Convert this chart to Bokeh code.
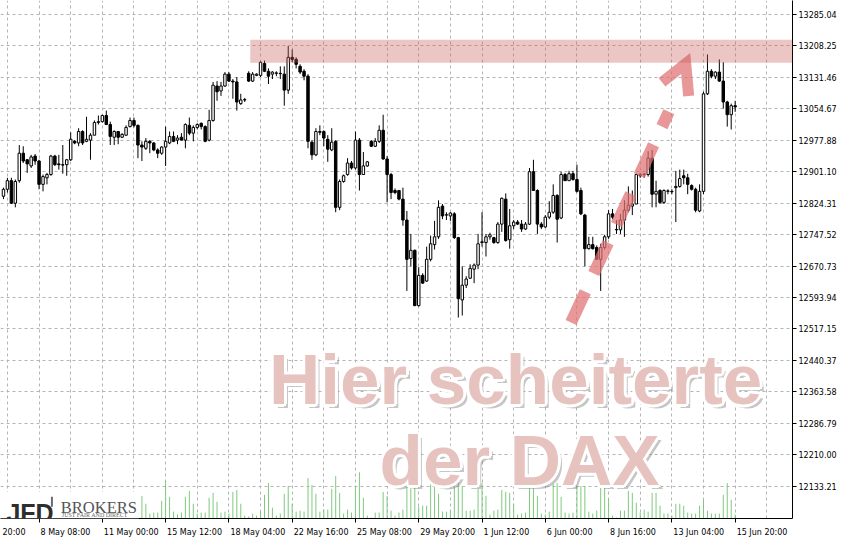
from bokeh.plotting import figure
from bokeh.models import Range1d, FixedTicker, BoxAnnotation, Label
from bokeh.core.properties import value
from bokeh.embed import file_html
from bokeh.resources import INLINE

# ---------------- data (DAX, H4 candles) ----------------
opens = [12841,12858,12879,12824,12879,12946,12930,12915,12939,12927,
         12870,12886,12894,12939,12920,12918,12918,12930,12975,12971,
         12999,12975,12978,12990,13021,13023,13038,13016,12985,12999,
         12985,12990,13011,13026,13014,12966,12958,12975,12971,12954,
         12946,12961,12971,12987,12978,12985,12978,13014,12995,13009,
         13019,13011,12978,13026,13110,13098,13110,13139,13122,13120,
         13067,13076,13141,13122,13136,13136,13165,13146,13139,13141,
         13141,13139,13100,13180,13175,13158,13146,13134,12973,12942,
         12999,12999,12980,12954,12975,12814,12877,12894,12922,12910,
         12978,12894,12915,12975,12963,12975,13002,12932,12894,12855,
         12855,12834,12783,12689,12709,12574,12648,12634,12687,12723,
         12742,12817,12795,12793,12798,12740,12588,12624,12641,12663,
         12673,12728,12728,12742,12740,12728,12773,12834,12735,12769,
         12778,12773,12761,12773,12901,12855,12773,12766,12790,12802,
         12843,12788,12894,12879,12896,12882,12855,12795,12713,12723,
         12716,12687,12716,12742,12798,12759,12759,12783,12807,12817,
         12822,12891,12894,12894,12934,12846,12855,12826,12853,12853,
         12862,12865,12891,12886,12867,12858,12805,12853,13091,13146,
         13134,13144,13122,13071,13040,13062]
highs = [12862,12886,12886,12882,12966,12963,12932,12942,12944,12930,
         12894,12898,12942,12942,12942,12966,12932,12997,12978,13007,
         13002,13035,12995,13026,13038,13040,13050,13023,13002,13000,
         12995,13014,13033,13033,13016,12975,12983,12978,12973,12958,
         12963,13011,12999,12999,12990,12995,13019,13033,13014,13019,
         13021,13014,13052,13120,13122,13120,13144,13144,13127,13132,
         13091,13081,13146,13144,13141,13170,13172,13153,13146,13146,
         13158,13158,13208,13199,13180,13163,13151,13139,12978,13007,
         13014,13002,12990,13007,12978,12882,12894,12934,12927,12999,
         12983,12949,12927,12978,12983,13014,13040,12939,12898,12860,
         12856,12862,12805,12749,12711,12668,12653,12718,12745,12781,
         12831,12822,12802,12802,12802,12742,12670,12646,12675,12677,
         12749,12802,12749,12752,12742,12778,12838,12848,12810,12783,
         12783,12783,12778,12910,12930,12858,12778,12795,12829,12870,
         12846,12901,12898,12903,12903,12918,12862,12798,12742,12742,
         12721,12725,12747,12807,12810,12783,12798,12831,12865,12855,
         12896,12898,12898,12951,12954,12879,12858,12858,12858,12858,
         12903,12906,12906,12896,12870,12862,12870,13096,13187,13151,
         13146,13175,13168,13074,13067,13074]
lows = [12834,12850,12822,12814,12874,12922,12898,12910,12918,12858,
        12853,12870,12891,12915,12906,12896,12891,12927,12968,12963,
        12966,12973,12930,12990,13016,13021,13016,12966,12966,12968,
        12983,12988,13009,13009,12934,12927,12954,12946,12951,12934,
        12942,12915,12968,12973,12968,12978,12958,12990,12975,13004,
        13004,12973,12975,13023,13074,13086,13108,13120,13079,13050,
        13064,13071,13120,13120,13134,13132,13144,13115,13127,13134,
        13127,13062,13091,13168,13153,13139,13124,12958,12930,12939,
        12990,12963,12925,12951,12802,12807,12874,12891,12906,12906,
        12855,12894,12913,12961,12961,12971,12930,12826,12834,12846,
        12831,12769,12610,12670,12574,12572,12627,12632,12682,12711,
        12737,12785,12783,12781,12737,12545,12550,12617,12639,12629,
        12663,12718,12694,12735,12725,12725,12754,12730,12713,12761,
        12771,12754,12759,12771,12855,12749,12761,12764,12785,12798,
        12728,12785,12879,12879,12879,12850,12795,12670,12711,12711,
        12687,12610,12711,12737,12785,12749,12749,12742,12802,12795,
        12822,12886,12886,12889,12814,12814,12822,12822,12846,12846,
        12778,12862,12870,12846,12855,12802,12802,12846,13088,13129,
        13127,13120,13055,13011,13004,13047]
closes = [12858,12879,12824,12877,12946,12927,12920,12937,12927,12870,
          12889,12894,12939,12918,12918,12917,12930,12980,12971,12999,
          12971,12980,12990,13021,13023,13038,13016,12987,12999,12985,
          12992,13009,13026,13014,12966,12961,12975,12971,12954,12946,
          12961,12975,12987,12975,12983,12978,13016,12995,13009,13016,
          13011,12975,13026,13112,13096,13110,13139,13122,13120,13071,
          13076,13077,13122,13139,13139,13168,13146,13134,13144,13142,
          13140,13100,13180,13175,13163,13144,13134,12975,12942,12999,
          12997,12983,12956,12973,12814,12877,12891,12922,12910,12978,
          12894,12915,12925,12963,12975,13002,12932,12894,12850,12850,
          12834,12783,12687,12709,12574,12648,12629,12687,12725,12742,
          12814,12793,12796,12800,12740,12591,12624,12639,12665,12673,
          12725,12730,12742,12747,12728,12773,12836,12733,12769,12778,
          12773,12761,12773,12901,12855,12773,12766,12790,12802,12843,
          12785,12894,12879,12896,12882,12853,12798,12713,12723,12713,
          12687,12716,12742,12798,12790,12760,12783,12807,12819,12822,
          12894,12894,12895,12934,12846,12853,12826,12855,12854,12852,
          12865,12884,12886,12870,12858,12807,12853,13091,13146,13134,
          13144,13122,13071,13040,13062,13059]

# tick volume (visible part, starting at candle 35; earlier ones sit under the logo)
vol_start = 35
volumes = [230,150,50,60,60,180,380,220,70,40,60,220,280,150,50,60,60,210,260,170,
           60,70,50,270,290,150,30,20,50,30,70,240,360,110,30,50,250,330,150,70,
           80,70,410,340,250,70,90,90,300,430,260,50,90,60,330,470,210,30,10,60,
           60,270,230,80,30,60,90,530,390,400,
           120,130,130,400,340,250,70,70,80,330,430,330,80,80,90,300,360,230,40,80,
           90,290,270,260,150,40,50,60,320,370,230,50,40,70,350,360,220,60,50,60,
           320,330,330,70,50,80,420,400,200,30,10,80,80,280,260,160,60,90,70,260,
           260,130,50,50,30,150,150,130,60,50,50,130,190,80,50,50,50,240,360,190,40]

y_tick_values = [12133.21, 12210.00, 12286.79, 12363.58, 12440.37, 12517.15, 12593.94, 12670.73,
                 12747.52, 12824.31, 12901.10, 12977.88, 13054.67, 13131.46, 13208.25, 13285.04]
y_tick_labels = ["12133.21", "12210.00", "12286.79", "12363.58", "12440.37", "12517.15", "12593.94",
                 "12670.73", "12747.52", "12824.31", "12901.10", "12977.88", "13054.67", "13131.46",
                 "13208.25", "13285.04"]
x_tick_index = [9, 25, 41, 57, 73, 89, 105, 121, 137, 153, 169, 185]
x_tick_labels = ["8 May 08:00", "11 May 00:00", "15 May 12:00", "18 May 04:00", "22 May 16:00",
                 "25 May 08:00", "29 May 20:00", "1 Jun 12:00", "6 Jun 00:00", "8 Jun 16:00",
                 "13 Jun 04:00", "15 Jun 20:00"]
left_partial_label = "20:00"

zone_low, zone_high, zone_start = 13167, 13223, 62.4   # resistance zone

# ---------------- figure ----------------
X0, X1 = -0.75, 199.5
Y0, Y1 = 12054.6, 13318.7
FW, FH = 792, 518
pxu = FW / (X1 - X0)

p = figure(frame_width=FW, frame_height=FH, x_range=Range1d(X0, X1), y_range=Range1d(Y0, Y1),
           output_backend="svg", toolbar_location=None, y_axis_location="right",
           x_axis_location="below")
p.min_border_left = 0
p.min_border_top = 0
p.min_border_right = 0
p.min_border_bottom = 0
p.outline_line_color = None
p.background_fill_color = "white"
p.border_fill_color = "white"

# grid
for g in (p.xgrid, p.ygrid):
    g.grid_line_color = "#b4b4b4"
    g.grid_line_dash = "3 3"
    g.grid_line_width = 1
p.xgrid.ticker = FixedTicker(ticks=list(range(1, 200, 8)))
p.ygrid.ticker = FixedTicker(ticks=y_tick_values)

LABEL_FONT = "DejaVu Sans"
LABEL_SIZE = "8px"

# right price axis
ya = p.yaxis[0]
ya.ticker = FixedTicker(ticks=y_tick_values)
ya.major_label_overrides = {v: s for v, s in zip(y_tick_values, y_tick_labels)}
ya.major_tick_out = 4
ya.major_tick_in = 0
ya.minor_tick_line_color = None
ya.axis_line_color = "black"
ya.major_tick_line_color = "black"
ya.major_label_text_font = LABEL_FONT
ya.major_label_text_font_size = LABEL_SIZE
ya.major_label_text_color = "black"
ya.major_label_standoff = 2

# bottom axis: labels left-aligned to the tick marks (ticks drawn as minor ticks)
DV = {" ": 0.318, ":": 0.337, "M": 0.863, "a": 0.613, "y": 0.592, "J": 0.295, "u": 0.634, "n": 0.634}
def text_w(s, size=8.0):
    return sum(DV.get(c, 0.636) for c in s) * size

centers, overrides = [], {}
for t, s in zip(x_tick_index, x_tick_labels):
    c = round(t + (1.5 + text_w(s) / 2) / pxu, 3)
    centers.append(c)
    overrides[c] = s
c0 = round(X0 + (2 + text_w(left_partial_label) / 2) / pxu, 3)
centers.append(c0)
overrides[c0] = left_partial_label

xa = p.xaxis[0]
xa.ticker = FixedTicker(ticks=sorted(centers), minor_ticks=x_tick_index)
xa.major_label_overrides = overrides
xa.axis_line_color = "black"
xa.major_tick_line_color = None
xa.major_tick_out = 0
xa.major_tick_in = 0
xa.minor_tick_line_color = "black"
xa.minor_tick_out = 4
xa.minor_tick_in = 0
xa.major_label_standoff = 5
xa.major_label_text_font = LABEL_FONT
xa.major_label_text_font_size = LABEL_SIZE
xa.major_label_text_color = "black"

# volume
p.extra_y_ranges = {"vol": Range1d(0, 5260)}
vx = list(range(vol_start, vol_start + len(volumes)))
p.segment(x0=vx, y0=[0] * len(vx), x1=vx, y1=volumes, y_range_name="vol",
          line_color="#7fca7f", line_width=1)

# candles
idx = list(range(len(opens)))
p.segment(x0=idx, y0=lows, x1=idx, y1=highs, line_color="black", line_width=1)
up = [i for i in idx if closes[i] >= opens[i]]
dn = [i for i in idx if closes[i] < opens[i]]
p.vbar(x=up, bottom=[opens[i] for i in up], top=[closes[i] for i in up], width=0.62,
       fill_color="white", line_color="black", line_width=1)
p.vbar(x=dn, bottom=[closes[i] for i in dn], top=[opens[i] for i in dn], width=0.62,
       fill_color="black", line_color="black", line_width=1)

# resistance zone
p.add_layout(BoxAnnotation(left=zone_start, bottom=zone_low, top=zone_high,
                           fill_color="#c85a5a", fill_alpha=0.35, line_color=None))

# dashed arrow
def px2data(xp, yp):
    return (xp - 3) / 4.0, 13318.7 - 2.4033 * yp

sx0, sy0 = px2data(577, 327)
sx1, sy1 = px2data(676, 113)
p.line([sx0, sx1], [sy0, sy1], line_color="#df7070", line_alpha=0.72, line_width=12,
       line_dash="34 20", line_cap="butt")
hx, hy = zip(px2data(669, 83), px2data(693, 64), px2data(696, 97))
p.line(list(hx), list(hy), line_color="#df7070", line_alpha=0.72, line_width=11,
       line_join="miter", line_cap="butt")

# headline with outline and shadow
head_text = ["Hier scheiterte", "der DAX"]
hxs = [(521 - 3) / 4.0, (525 - 3) / 4.0]
hys = [13318.7 - 2.4033 * 385, 13318.7 - 2.4033 * 467]
common = dict(text_font=value("Liberation Sans"), text_font_style="bold", text_font_size="71px",
              text_align="center", text_baseline="alphabetic")
p.text(x=hxs, y=hys, text=head_text, text_color="#808080", text_alpha=0.45,
       x_offset=4, y_offset=4, **common)
for dx, dy in [(-3, 0), (3, 0), (0, -3), (0, 3), (-2, -2), (2, -2), (-2, 2), (2, 2)]:
    p.text(x=hxs, y=hys, text=head_text, text_color="white", x_offset=dx, y_offset=dy, **common)
p.text(x=hxs, y=hys, text=head_text, text_color="#e6c3bf", **common)

# logo
p.add_layout(BoxAnnotation(left=X0, right=34.25, bottom=Y0, top=13318.7 - 2.4033 * 499,
                           fill_color="white", fill_alpha=1.0, line_color=None))
p.add_layout(Label(x=(6 - 3) / 4.0, y=13318.7 - 2.4033 * 520, text="JFD", text_font="Liberation Sans",
                   text_font_style="bold", text_font_size="25px", text_color="#2e2e2e",
                   text_baseline="alphabetic"))
p.add_layout(BoxAnnotation(left=(51 - 3) / 4.0, right=(53 - 3) / 4.0,
                           bottom=13318.7 - 2.4033 * 514, top=13318.7 - 2.4033 * 504,
                           fill_color="#6a6a6a", fill_alpha=1.0, line_color=None))
p.add_layout(Label(x=(61 - 3) / 4.0, y=13318.7 - 2.4033 * 515, text="BROKERS",
                   text_font="Liberation Serif", text_font_size="16.5px", text_color="#555555",
                   text_baseline="alphabetic"))
p.add_layout(Label(x=(62 - 3) / 4.0, y=13318.7 - 2.4033 * 522, text="JUST FAIR AND DIRECT",
                   text_font="Liberation Serif", text_font_size="6px", text_color="#666666",
                   text_baseline="alphabetic"))

open("out.html", "w").write(file_html(p, INLINE))
